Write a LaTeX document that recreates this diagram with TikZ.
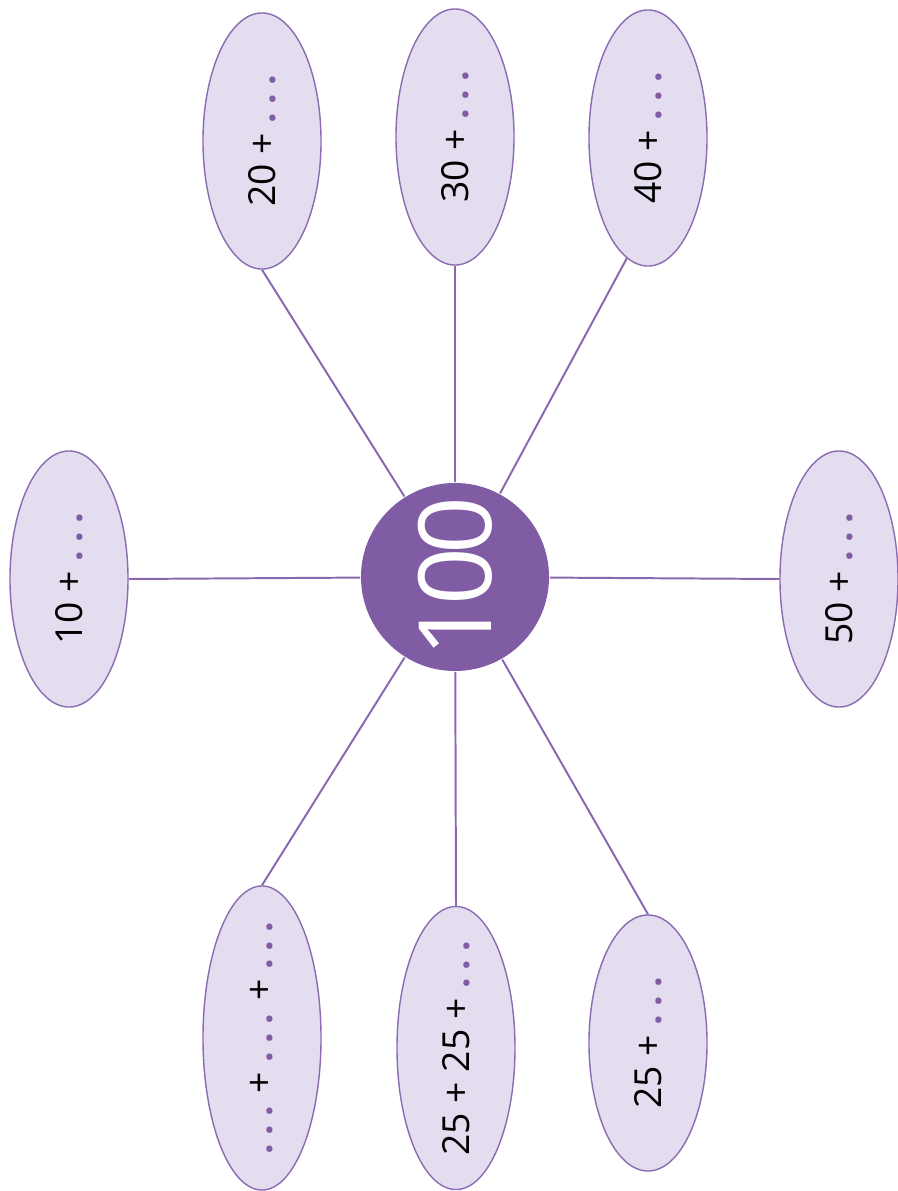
\documentclass[tikz,border=0pt]{standalone}
\usepackage{fontspec}
\setmainfont{Open Sans}
\usetikzlibrary{shapes.geometric}

\definecolor{hubpurple}{HTML}{7F5CA4}
\definecolor{ovalfill}{HTML}{E4DCEF}
\definecolor{ovalline}{HTML}{8B6BB1}
\definecolor{spokeline}{HTML}{8A68B0}

\newcommand{\gap}{\textcolor{hubpurple}{\textbf{.\kern0.22em.\kern0.22em.}}}

\begin{document}
\begin{tikzpicture}[x=0.025cm,y=-0.025cm,line width=1.4pt,
    oval/.style={draw=ovalline, fill=ovalfill, ellipse, line width=1pt,
      minimum width=2.95cm, minimum height=6.4cm, inner sep=-1cm,
      font=\fontsize{26.5}{30}\selectfont},
    hub/.style={circle, fill=hubpurple, text=white, minimum size=4.7cm,
      inner sep=0pt, font=\fontsize{72}{80}\selectfont\addfontfeatures{LetterSpace=-6}},
    spoke/.style={draw=spokeline}]
          \useasboundingbox (0,0) rectangle (897,1191);

          \node [hub] (H) at (455, 577) {\rotatebox{90}{100}};

          \node [oval] (O10) at (69, 579) {\rotatebox{90}{10 + \gap}};
          \node [oval] (O20) at (262, 141) {\rotatebox{90}{20 + \gap}};
          \node [oval] (O30) at (455, 137) {\rotatebox{90}{30 + \gap}};
          \node [oval] (O40) at (648, 138) {\rotatebox{90}{40 + \gap}};
          \node [oval] (O50) at (839, 579) {\rotatebox{90}{50 + \gap}};
          \node [oval, minimum height=7.6cm] (OG) at (262, 1038) {\rotatebox{90}{\gap{} + \gap{} + \gap}};
          \node [oval, minimum height=7.075cm] (O2525) at (456, 1048) {\rotatebox{90}{25 + 25 + \gap}};
          \node [oval] (O25) at (648, 1043) {\rotatebox{90}{25 + \gap}};

          \draw [spoke] (H) edge (O10.east);
          \draw [spoke] (H) edge (O20.south);
          \draw [spoke] (H) edge (O30.south);
          \draw [spoke] (H) edge (O40.260);
          \draw [spoke] (H) edge (O50.west);
          \draw [spoke] (H) edge (OG.north);
          \draw [spoke] (H) edge (O2525.north);
          \draw [spoke] (H) edge (O25.north);

\end{tikzpicture}
\end{document}
